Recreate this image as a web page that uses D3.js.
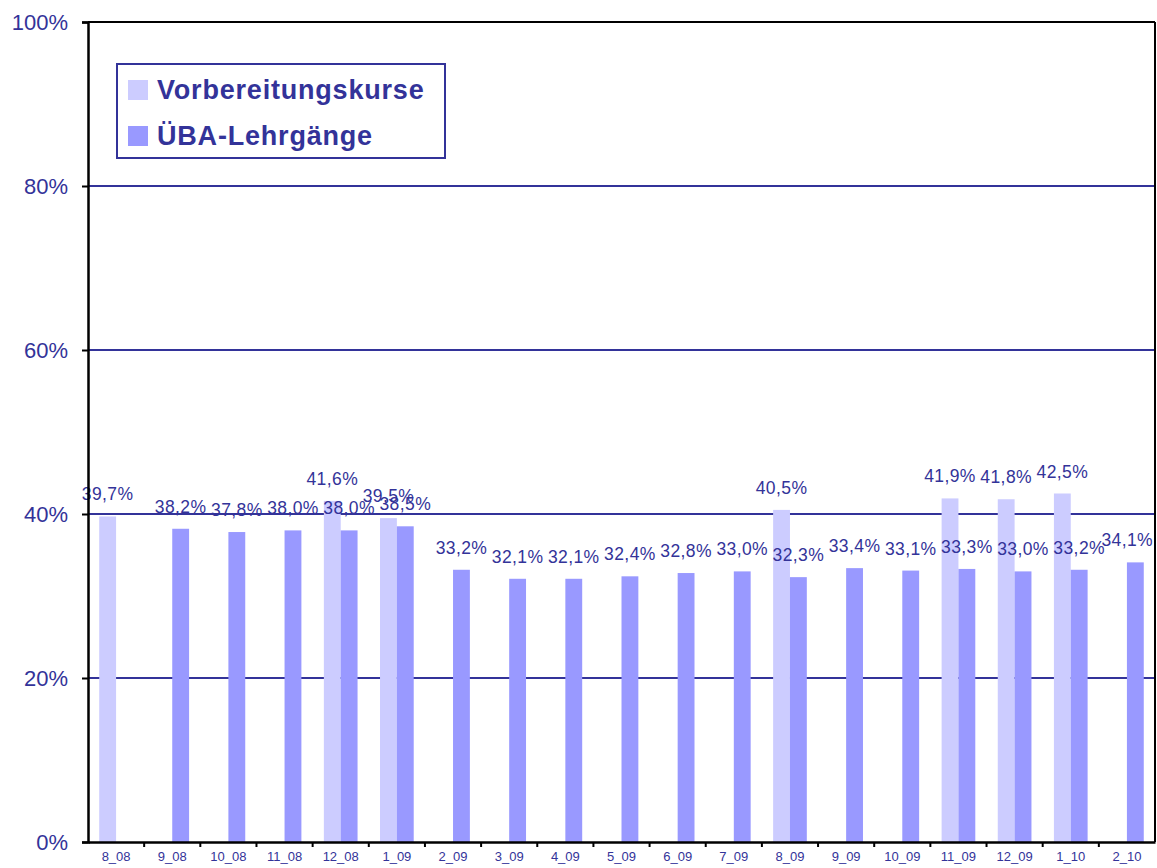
<!DOCTYPE html>
<html lang="de">
<head>
<meta charset="utf-8">
<title>Vorbereitungskurse / ÜBA-Lehrgänge</title>
<script src="https://d3js.org/d3.v7.min.js"></script>
<style>
  body { margin: 0; background: #fff; }
  svg { display: block; }
  text { font-family: "Liberation Sans", Arial, sans-serif; fill: #333399; }
</style>
</head>
<body>
<svg id="chart"></svg>
<script>
// categories (month_year)
const months = ["8_08", "9_08", "10_08", "11_08", "12_08", "1_09", "2_09", "3_09", "4_09", "5_09",
                "6_09", "7_09", "8_09", "9_09", "10_09", "11_09", "12_09", "1_10", "2_10"];
// Vorbereitungskurse, null = no value
const vorbereitung = [39.7, null, null, null, 41.6, 39.5, null, null, null, null,
                      null, null, 40.5, null, null, 41.9, 41.8, 42.5, null];
// ÜBA-Lehrgänge
const uba = [null, 38.2, 37.8, 38.0, 38.0, 38.5, 33.2, 32.1, 32.1, 32.4,
             32.8, 33.0, 32.3, 33.4, 33.1, 33.3, 33.0, 33.2, 34.1];
const yTicks = [0, 20, 40, 60, 80, 100];
const seriesNames = ["Vorbereitungskurse", "ÜBA-Lehrgänge"];

const W = 1157, H = 868;
const margin = {top: 22, right: 2, bottom: 26, left: 88};
const width = W - margin.left - margin.right;
const height = H - margin.top - margin.bottom;

const colors = {light: "#ccccff", dark: "#9999ff", text: "#333399"};

const svg = d3.select("#chart").attr("width", W).attr("height", H);
const g = svg.append("g").attr("transform", `translate(${margin.left},${margin.top})`);

const x = d3.scaleBand().domain(months).range([0, width]).padding(0);
const y = d3.scaleLinear().domain([0, 100]).range([height, 0]);
const barW = x.bandwidth() * 0.3;
const fmt = v => d3.format(".1f")(v).replace(".", ",") + "%";

// gridlines
g.append("g")
  .selectAll("line")
  .data(yTicks.filter(t => t > 0 && t < 100))
  .join("line")
  .attr("x1", 0).attr("x2", width)
  .attr("y1", d => y(d)).attr("y2", d => y(d))
  .attr("stroke", colors.text).attr("stroke-width", 2);

// bars
const rows = months.map((m, i) => ({m, v: vorbereitung[i], u: uba[i]}));

g.append("g").selectAll("rect")
  .data(rows.filter(d => d.v != null))
  .join("rect")
  .attr("x", d => x(d.m) + x.bandwidth() / 2 - barW)
  .attr("y", d => y(d.v))
  .attr("width", barW)
  .attr("height", d => height - y(d.v))
  .attr("fill", colors.light);

g.append("g").selectAll("rect")
  .data(rows.filter(d => d.u != null))
  .join("rect")
  .attr("x", d => x(d.m) + x.bandwidth() / 2)
  .attr("y", d => y(d.u))
  .attr("width", barW)
  .attr("height", d => height - y(d.u))
  .attr("fill", colors.dark);

// value labels, kept inside the plot on the right
function valueLabels(data, key, shift) {
  g.append("g").selectAll("text")
    .data(data)
    .join("text")
    .attr("x", d => x(d.m) + x.bandwidth() / 2 + shift)
    .attr("y", d => y(d[key]) - 16)
    .attr("text-anchor", "middle")
    .style("font-size", "17.5px")
    .style("letter-spacing", "0.4px")
    .text(d => fmt(d[key]))
    .each(function() {
      const half = this.getComputedTextLength() / 2;
      const cx = +this.getAttribute("x");
      if (cx + half > width - 2) this.setAttribute("x", width - 2 - half);
    });
}
valueLabels(rows.filter(d => d.v != null), "v", -barW / 2);
valueLabels(rows.filter(d => d.u != null), "u", barW / 2);

// frame: top and right
g.append("line").attr("x1", 0).attr("x2", width).attr("y1", 0).attr("y2", 0)
  .attr("stroke", "#000").attr("stroke-width", 2);
g.append("line").attr("x1", width).attr("x2", width).attr("y1", 0).attr("y2", height)
  .attr("stroke", "#000").attr("stroke-width", 2);

// y axis
const yAxis = g.append("g")
  .call(d3.axisLeft(y).tickValues(yTicks).tickSize(6).tickPadding(14).tickFormat(d => d + "%"));
yAxis.select(".domain").attr("stroke", "#000").attr("stroke-width", 2.5);
yAxis.selectAll(".tick line").attr("stroke", "#000").attr("stroke-width", 2);
yAxis.selectAll(".tick text").style("font-size", "22px").attr("fill", colors.text).attr("dy", "0.36em");

// x axis
const xAxis = g.append("g").attr("transform", `translate(0,${height})`)
  .call(d3.axisBottom(x).tickSize(0).tickPadding(10));
xAxis.select(".domain").attr("stroke", "#000").attr("stroke-width", 2.5);
xAxis.selectAll(".tick text").style("font-size", "13px").attr("fill", colors.text);
// ticks at category boundaries
g.append("g").attr("transform", `translate(0,${height})`)
  .selectAll("line")
  .data(months.slice(1))
  .join("line")
  .attr("x1", d => x(d)).attr("x2", d => x(d))
  .attr("y1", 0).attr("y2", 5)
  .attr("stroke", "#000").attr("stroke-width", 2);

// legend
const legend = svg.append("g").attr("transform", "translate(117,64)");
legend.append("rect")
  .attr("width", 328).attr("height", 94)
  .attr("fill", "#fff").attr("stroke", colors.text).attr("stroke-width", 2);
const items = legend.selectAll("g.item")
  .data(seriesNames)
  .join("g").attr("class", "item")
  .attr("transform", (d, i) => `translate(11,${16 + i * 46})`);
items.append("rect")
  .attr("width", 20).attr("height", 20)
  .attr("fill", (d, i) => i === 0 ? colors.light : colors.dark);
items.append("text")
  .attr("x", 29).attr("y", 19)
  .style("font-size", "27px").style("font-weight", "bold").style("letter-spacing", "0.8px")
  .text(d => d);
</script>
</body>
</html>
